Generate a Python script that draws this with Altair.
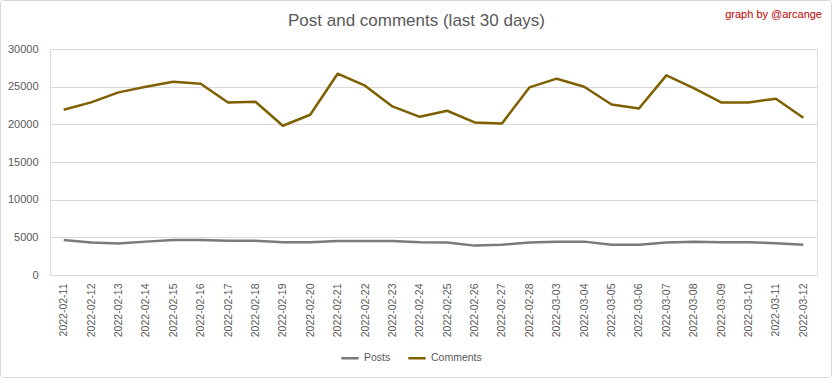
import altair as alt
import pandas as pd

dates = ["2022-02-11", "2022-02-12", "2022-02-13", "2022-02-14", "2022-02-15", "2022-02-16",
         "2022-02-17", "2022-02-18", "2022-02-19", "2022-02-20", "2022-02-21", "2022-02-22",
         "2022-02-23", "2022-02-24", "2022-02-25", "2022-02-26", "2022-02-27", "2022-02-28",
         "2022-03-03", "2022-03-04", "2022-03-05", "2022-03-06", "2022-03-07", "2022-03-08",
         "2022-03-09", "2022-03-10", "2022-03-11", "2022-03-12"]
posts = [4650, 4300, 4170, 4430, 4650, 4650, 4560, 4560, 4340, 4340, 4520, 4520,
         4520, 4340, 4300, 3900, 4030, 4300, 4430, 4430, 4030, 4030, 4300, 4430,
         4340, 4340, 4210, 4030]
comments = [21930, 22910, 24240, 24990, 25660, 25390, 22910, 23000, 19810, 21270, 26720, 25130,
            22380, 21000, 21800, 20250, 20120, 24900, 26060, 24990, 22640, 22110, 26500, 24820,
            22910, 22910, 23400, 20870]
series = ["Posts", "Comments"]
colors = ["#7a7a7a", "#7f6000"]
title_text = "Post and comments (last 30 days)"
credit_text = "graph by @arcange"

rows = []
for d, p, c in zip(dates, posts, comments):
    rows.append({"date": d, "series": "Posts", "value": p})
    rows.append({"date": d, "series": "Comments", "value": c})
df = pd.DataFrame(rows)

FONT = "Liberation Sans"
W, H = 767, 226

lines = alt.Chart(df).mark_line(strokeWidth=2.5, strokeJoin="round").encode(
    x=alt.X("date:N", sort=dates, scale=alt.Scale(type="point", padding=0.5),
            axis=alt.Axis(title=None, labelAngle=-90, ticks=False, domain=True,
                          domainColor="#d9d9d9", labelColor="#595959", labelFontSize=10.5,
                          labelPadding=8, labelFont=FONT)),
    y=alt.Y("value:Q", scale=alt.Scale(domain=[0, 30000], nice=False),
            axis=alt.Axis(title=None, values=[0, 5000, 10000, 15000, 20000, 25000, 30000],
                          domain=False, ticks=False, grid=True, gridColor="#d9d9d9",
                          labelColor="#595959", labelFontSize=11, labelPadding=12,
                          labelFont=FONT, format="d")),
    color=alt.Color("series:N", sort=series,
                    scale=alt.Scale(domain=series, range=colors),
                    legend=alt.Legend(title=None, orient="none", direction="horizontal",
                                      legendX=290, legendY=299, symbolType="stroke",
                                      symbolStrokeWidth=2.5, symbolSize=300,
                                      labelFontSize=10.5, labelColor="#595959",
                                      labelFont=FONT, columnPadding=12, symbolOffset=0)),
)

title = alt.Chart(pd.DataFrame({"t": [title_text]})).mark_text(
    align="center", baseline="middle", fontSize=17, color="#595959", font=FONT
).encode(text="t:N", x=alt.value(366.5), y=alt.value(-28))

credit = alt.Chart(pd.DataFrame({"t": [credit_text]})).mark_text(
    align="right", baseline="middle", fontSize=11, color="#c00000", font=FONT
).encode(text="t:N", x=alt.value(772), y=alt.value(-34))

border = alt.Chart(pd.DataFrame({"a": [0]})).mark_rect(
    fill=None, stroke="#d9d9d9", strokeWidth=1, cornerRadius=3
).encode(x=alt.value(-49.5), x2=alt.value(781.5), y=alt.value(-48.5), y2=alt.value(328.5))

chart = alt.layer(border, lines, title, credit).properties(
    width=W, height=H,
    padding={"left": 50, "top": 49, "right": 15, "bottom": 103},
    autosize=alt.AutoSizeParams(type="none"),
).configure_view(stroke=None).configure(background="white")

chart.save("out.html", embed_options={"renderer": "svg", "actions": False})
